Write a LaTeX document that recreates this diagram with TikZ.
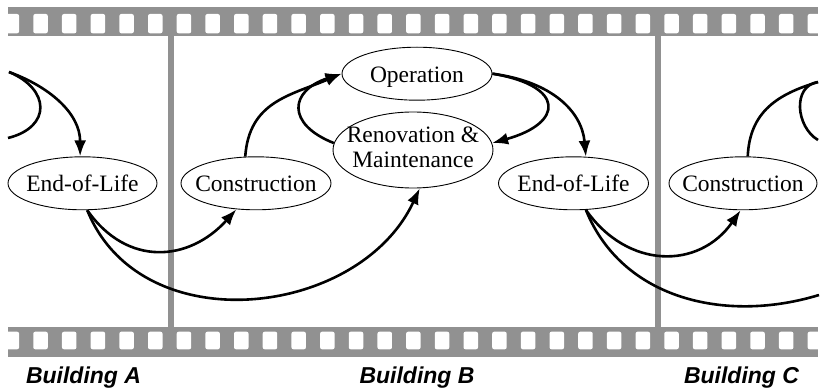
\documentclass[tikz,border=0pt]{standalone}
\usepackage{fontspec}
\setmainfont{Liberation Serif}
\newfontfamily\labfont{Liberation Sans}
\usetikzlibrary{shapes.geometric,arrows.meta}
\definecolor{filmgray}{RGB}{145,145,145}
\tikzset{
  ell/.style={ellipse, draw, line width=0.9pt, inner sep=0pt, fill=white,
    font=\fontsize{23.5}{25}\selectfont},
  oneline/.style={text height=17.4pt, text depth=0pt},
  conn/.style={line width=2.6pt, -{Latex[length=16pt,width=12pt]}},
  plain/.style={line width=2.6pt},
  film/.style={fill=filmgray},
  hole/.style={fill=white, rounded corners=2pt},
  bldlabel/.style={anchor=base, font=\labfont\fontsize{23}{27}\selectfont\bfseries\itshape}
}
\begin{document}
\begin{tikzpicture}[x=1pt,y=1pt]
\useasboundingbox (0,0) rectangle (823,389);
% film strips
\fill[film] (8,353) rectangle (818,382);
\begin{scope}
  \clip (8,353) rectangle (818,382);
  \foreach \k in {-1,...,27} \fill[hole] ({33.3+28.68*\k},355.7) rectangle +(14.5,19.3);
\end{scope}
\fill[film] (8,31.7) rectangle (818,61.7);
\begin{scope}
  \clip (8,31.7) rectangle (818,61.7);
  \foreach \k in {-1,...,27} \fill[hole] ({33.3+28.68*\k},39.7) rectangle +(14.5,17.6);
\end{scope}
% dividers
\fill[film] (168,61) rectangle (173.5,354);
\fill[film] (655,61) rectangle (660.5,354);
% nodes
\node[ell, oneline, minimum width=149pt, minimum height=53pt] (eolA) at (82.5,205.7) {\makebox[0pt]{End-of-Life}};
\node[ell, oneline, minimum width=150pt, minimum height=53pt] (conB) at (256,205.7) {\makebox[0pt]{Construction}};
\node[ell, oneline, minimum width=150pt, minimum height=53pt] (op) at (417,315.3) {\makebox[0pt]{Operation}};
\node[ell, minimum width=160pt, minimum height=76pt] (ren) at (413,239) {\makebox[0pt]{\begin{tabular}{@{}c@{}}Renovation \&\\Maintenance\end{tabular}}};
\node[ell, oneline, minimum width=150pt, minimum height=53pt] (eolB) at (573.5,205.7) {\makebox[0pt]{End-of-Life}};
\node[ell, oneline, minimum width=148pt, minimum height=53pt] (conC) at (743,205.7) {\makebox[0pt]{Construction}};
% free ends
\coordinate (aOp) at (9,317);
\coordinate (aRen) at (8,251);
\coordinate (cOp) at (818,307);
\coordinate (cRen) at (818,249);
\coordinate (cEdge) at (819,94);
% Building A remnants
\draw[conn] (aOp) to[out=-20,in=90] (eolA.95);
\draw[plain] (aOp) .. controls +(41,-17) and +(44,11) .. (aRen);
% Building B
\draw[conn] (conB.112) .. controls +(4,55) and +(-52,-22) .. (op.west);
\draw[conn] (ren.175) .. controls +(-48,19) and +(-52,-17) .. (op.west);
\draw[conn] (op.east) .. controls +(73,-12) and +(72,20) .. (ren.5);
\draw[conn] (op.east) .. controls +(60,-8) and +(-4,45) .. (eolB.65);
\draw[conn] (eolA.-80) to[out=-55,in=228,looseness=1.2] (conB.233);
\draw[conn] (eolA.-80) to[out=-68,in=245,looseness=1.1] (ren.-80);
% Building B to C
\draw[conn] (eolB.-65) to[out=-55,in=235,looseness=1.2] (conC.265);
\draw[plain] (eolB.-65) to[out=-68,in=197] (cEdge);
% Building C remnants
\draw[plain] (conC.80) .. controls +(2,45) and +(-40,-12) .. (cOp);
\draw[plain] (cOp) .. controls +(-26,-4) and +(-22,13) .. (cRen);
% labels
\node[bldlabel] (labA) at (83.5,6) {Building A};
\node[bldlabel] (labB) at (417,6) {Building B};
\node[bldlabel] (labC) at (741.5,6) {Building C};
\end{tikzpicture}
\end{document}
